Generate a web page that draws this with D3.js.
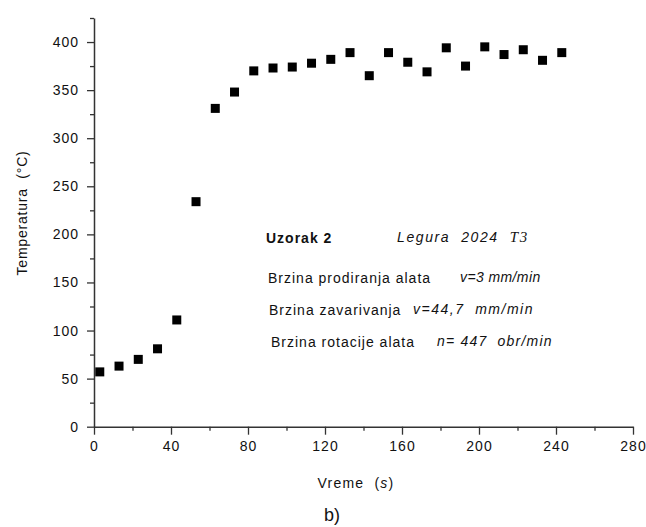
<!DOCTYPE html>
<html><head><meta charset="utf-8">
<script src="https://cdn.jsdelivr.net/npm/d3@7"></script>
<style>
body{margin:0;background:#fff;}
text{font-family:"Liberation Sans",Arial,sans-serif;fill:#111;white-space:pre;}
</style></head>
<body><svg id="c" width="646" height="527"></svg>
<script>
const times = [3,13,23,33,43,53,63,73,83,93,103,113,123,133,143,153,163,173,183,193,203,213,223,233,243];
const temps = [57,63,70,81,111,234,331,348,370,373,374,378,382,389,365,389,379,369,394,375,395,387,392,381,389];
const xMajor = [0,40,80,120,160,200,240,280];
const xMinor = [20,60,100,140,180,220,260];
const yMajor = [0,50,100,150,200,250,300,350,400];
const yMinor = [25,75,125,175,225,275,325,375,425];

const svg = d3.select("#c");
const x = d3.scaleLinear().domain([0,280]).range([94,633]);
const y = d3.scaleLinear().domain([0,425]).range([426.7,18]);
const axisColor = "#333";

function styleAxis(g){
  g.select(".domain").attr("stroke",axisColor).attr("stroke-width",1.5);
  g.selectAll(".tick line").attr("stroke",axisColor).attr("stroke-width",1.3);
  g.selectAll("text").style("font-size","14px").style("letter-spacing","1px").attr("fill","#222");
}
// Y axis
const gy = svg.append("g").attr("transform",`translate(${x(0)},0)`)
  .call(d3.axisLeft(y).tickValues(yMajor).tickSize(7).tickPadding(8).tickSizeOuter(0));
styleAxis(gy);
svg.append("g").attr("transform",`translate(${x(0)},0)`)
  .call(d3.axisLeft(y).tickValues(yMinor).tickSize(4).tickFormat("").tickSizeOuter(0))
  .call(g=>{g.select(".domain").remove();g.selectAll("line").attr("stroke",axisColor).attr("stroke-width",1.3);});
// X axis
const gx = svg.append("g").attr("transform",`translate(0,${y(0)})`)
  .call(d3.axisBottom(x).tickValues(xMajor).tickSize(8).tickPadding(6).tickSizeOuter(0));
styleAxis(gx);
svg.append("g").attr("transform",`translate(0,${y(0)})`)
  .call(d3.axisBottom(x).tickValues(xMinor).tickSize(4).tickFormat("").tickSizeOuter(0))
  .call(g=>{g.select(".domain").remove();g.selectAll("line").attr("stroke",axisColor).attr("stroke-width",1.3);});

// points
const s = 9;
svg.append("g").selectAll("rect").data(times.map((t,i)=>[t,temps[i]])).join("rect")
  .attr("x",d=>x(d[0])-s/2).attr("y",d=>y(d[1])-s/2)
  .attr("width",s).attr("height",s).attr("fill","#000");

// axis titles
svg.append("text").attr("transform","translate(27,213) rotate(-90)")
  .attr("text-anchor","middle").style("font-size","14px").style("letter-spacing","0.8px")
  .text("Temperatura  (°C)");
const xt = svg.append("text").attr("x",356).attr("y",488).attr("text-anchor","middle")
  .style("font-size","14px").style("letter-spacing","1.2px");
xt.append("tspan").text("Vreme  (");
xt.append("tspan").style("font-style","italic").text("s");
xt.append("tspan").text(")");
svg.append("text").attr("x",332).attr("y",521).attr("text-anchor","middle")
  .style("font-size","18px").text("b)");

// annotations
svg.append("text").attr("x",266).attr("y",243).style("font-size","14px")
  .style("font-weight","bold").style("letter-spacing","1px").text("Uzorak 2");
const lg = svg.append("text").attr("x",397).attr("y",242).style("font-size","14px")
  .style("font-style","italic").style("letter-spacing","1.6px");
lg.append("tspan").text("Legura  2024  ");
lg.append("tspan").style("font-family","'Liberation Serif',serif").style("font-size","15px").text("T3");

const lines = [
  {label:"Brzina prodiranja alata", val:"v=3 mm/min", x:268, vx:460, y:283, ls:0.4},
  {label:"Brzina zavarivanja", val:"v=44,7  mm/min", x:269, vx:413, y:315, ls:1.5},
  {label:"Brzina rotacije alata", val:"n= 447  obr/min", x:271, vx:437, y:347, ls:1.2}
];
lines.forEach(l=>{
  svg.append("text").attr("x",l.x).attr("y",l.y).style("font-size","14px")
    .style("letter-spacing","1px").text(l.label);
  svg.append("text").attr("x",l.vx).attr("y",l.y-1).style("font-size","14px")
    .style("font-style","italic").style("letter-spacing",l.ls+"px").text(l.val);
});
</script></body></html>
